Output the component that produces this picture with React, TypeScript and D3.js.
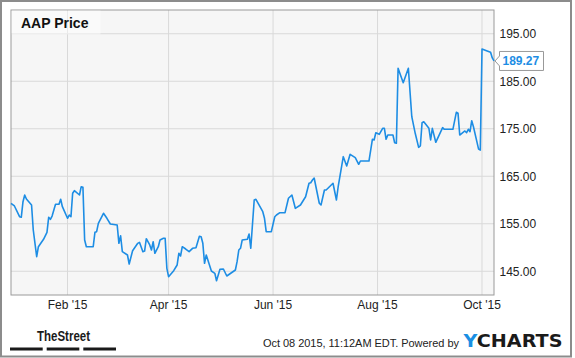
import React from "react";
import * as d3 from "d3";

const dates: string[] = [
  "2014-12-30","2015-01-01","2015-01-04","2015-01-05","2015-01-06","2015-01-07","2015-01-08","2015-01-11","2015-01-12","2015-01-14",
  "2015-01-15","2015-01-18","2015-01-20","2015-01-21","2015-01-22","2015-01-23","2015-01-25","2015-01-27","2015-01-28","2015-01-29",
  "2015-02-01","2015-02-02","2015-02-03","2015-02-04","2015-02-05","2015-02-08","2015-02-09","2015-02-10","2015-02-11","2015-02-12",
  "2015-02-16","2015-02-17","2015-02-18","2015-02-19","2015-02-22","2015-02-24","2015-02-26","2015-03-02","2015-03-03","2015-03-04",
  "2015-03-05","2015-03-08","2015-03-09","2015-03-11","2015-03-14","2015-03-15","2015-03-17","2015-03-18","2015-03-19","2015-03-21",
  "2015-03-22","2015-03-23","2015-03-24","2015-03-26","2015-03-27","2015-03-29","2015-03-30","2015-03-31","2015-04-01","2015-04-04",
  "2015-04-06","2015-04-07","2015-04-08","2015-04-09","2015-04-11","2015-04-13","2015-04-15","2015-04-17","2015-04-19","2015-04-20",
  "2015-04-21","2015-04-22","2015-04-23","2015-04-26","2015-04-28","2015-04-29","2015-05-01","2015-05-03","2015-05-05","2015-05-10",
  "2015-05-11","2015-05-12","2015-05-13","2015-05-14","2015-05-17","2015-05-18","2015-05-19","2015-05-21","2015-05-22","2015-05-26",
  "2015-05-27","2015-05-28","2015-05-31","2015-06-02","2015-06-03","2015-06-05","2015-06-08","2015-06-10","2015-06-12","2015-06-14",
  "2015-06-17","2015-06-20","2015-06-22","2015-06-23","2015-06-24","2015-06-25","2015-06-28","2015-06-29","2015-07-01","2015-07-02",
  "2015-07-06","2015-07-08","2015-07-09","2015-07-12","2015-07-14","2015-07-16","2015-07-19","2015-07-21","2015-07-22","2015-07-27",
  "2015-07-29","2015-07-30","2015-07-31","2015-08-02","2015-08-04","2015-08-05","2015-08-06","2015-08-07","2015-08-10","2015-08-11",
  "2015-08-12","2015-08-13","2015-08-16","2015-08-19","2015-08-21","2015-08-23","2015-08-25","2015-08-26","2015-08-27","2015-08-28",
  "2015-08-31","2015-09-01","2015-09-02","2015-09-04","2015-09-08","2015-09-09","2015-09-14","2015-09-16","2015-09-17","2015-09-18",
  "2015-09-21","2015-09-22","2015-09-23","2015-09-24","2015-09-25","2015-09-26","2015-09-29","2015-09-30","2015-10-01","2015-10-04",
  "2015-10-06","2015-10-07","2015-10-08",
];

const prices: number[] = [
  159.31,158.74,156.48,156.36,159.64,161.05,160.21,158.95,153.68,148.06,
  150.17,151.73,153.2,156.36,155.94,156.63,159.09,159.09,160.15,158.59,
  156.15,156.84,156.48,161.41,161.96,161.05,162.8,162.67,151.58,150.17,
  150.17,153.2,153.33,155.09,157.2,156.15,154.95,154.74,150.88,152.48,
  149.12,148.42,146.53,149.33,150.88,151.09,149.12,149.26,151.85,150.53,
  149.47,151.22,148.78,150.17,151.58,151.94,151.94,145.62,143.85,145.12,
  146.32,148.78,148.21,150.17,149.68,149.12,149.83,149.96,152.36,152.27,
  150.88,146.67,148.42,145.05,144.57,143.01,145.41,145.47,144.0,145.26,
  147.01,149.47,149.83,151.58,151.73,152.84,149.83,160.0,160.15,157.54,
  156.15,153.33,153.33,156.48,156.84,157.33,157.33,160.36,161.05,158.25,
  158.95,160.69,163.52,163.64,164.21,164.63,159.31,158.95,162.1,162.1,
  163.52,160.0,162.74,169.12,167.16,169.62,168.91,167.52,168.21,168.21,
  172.78,172.63,174.17,173.83,175.09,175.09,172.78,173.68,173.68,172.06,
  171.94,187.73,184.69,187.73,177.54,174.04,171.09,171.37,176.27,176.48,
  175.09,172.63,175.09,172.15,175.22,174.88,174.88,178.46,178.25,173.68,
  174.53,174.17,174.88,174.38,176.69,175.43,170.7,170.5,191.8,191.37,
  191.09,189.9,189.27,
];

const yTicks: number[] = [145, 155, 165, 175, 185, 195];
const xTicks: string[] = ["2015-02-01", "2015-04-01", "2015-06-01", "2015-08-01", "2015-10-01"];
const title = "AAP Price";
const footerText = "Oct 08 2015, 11:12AM EDT.  Powered by";

const parse = d3.timeParse("%Y-%m-%d");
const fmtX = d3.timeFormat("%b '%y");
const fmtY = d3.format(".2f");

export default function App() {
  const W = 575, H = 358;
  const left = 11, right = 494, top = 10, bottom = 295;
  const data = dates.map((d, i) => ({ date: parse(d) as Date, value: prices[i] }));
  const x = d3.scaleTime().domain(d3.extent(data, (d) => d.date) as [Date, Date]).range([left, right]);
  const y = d3.scaleLinear().domain([140, 200]).range([bottom, top]);
  const line = d3.line<{ date: Date; value: number }>().x((d) => x(d.date)).y((d) => y(d.value));
  const last = data[data.length - 1];
  const ly = y(last.value);
  const blue = "#1d8de4";
  const font = "'Liberation Sans', Arial, sans-serif";

  return (
    <svg width={W} height={H} style={{ position: "absolute", left: 0, top: 0, background: "#fff" }} fontFamily={font}>
      <rect x={1} y={1} width={570} height={355.5} fill="#fff" stroke="#8c8c8c" strokeWidth={2} />
      <rect x={left} y={top} width={right - left} height={bottom - top} fill="#f6f6f6" />
      {yTicks.map((t) => (
        <line key={"gy" + t} x1={left} x2={right} y1={y(t)} y2={y(t)} stroke="#d9d9d9" strokeWidth={1} />
      ))}
      {xTicks.map((t) => {
        const xx = x(parse(t) as Date);
        return <line key={"gx" + t} x1={xx} x2={xx} y1={top} y2={bottom} stroke="#d9d9d9" strokeWidth={1} />;
      })}
      <rect x={left} y={top} width={right - left} height={bottom - top} fill="none" stroke="#9a9a9a" strokeWidth={1} />
      <rect x={left + 0.5} y={top + 0.5} width={89} height={24} fill="#ffffff" fillOpacity={0.45} />
      <text x={21} y={28} fontSize={14} fontWeight="bold" fill="#111">{title}</text>
      <path d={line(data) || ""} fill="none" stroke={blue} strokeWidth={1.6} strokeLinejoin="round" />
      {yTicks.map((t) => (
        <text key={"ty" + t} x={499.5} y={y(t) + 4.5} fontSize={12} fill="#222">{fmtY(t)}</text>
      ))}
      {xTicks.map((t) => {
        const xx = x(parse(t) as Date);
        return <text key={"tx" + t} x={xx} y={309} fontSize={12} fill="#222" textAnchor="middle">{fmtX(parse(t) as Date)}</text>;
      })}
      <path
        d={`M${right + 1},${ly} L${499.5},${ly - 5} L${499.5},${ly - 9.5} L${543.5},${ly - 9.5} L${543.5},${ly + 9.5} L${499.5},${ly + 9.5} L${499.5},${ly + 5} Z`}
        fill="#fff" stroke="#999" strokeWidth={1}
      />
      <text x={502.5} y={ly + 4.5} fontSize={12} fontWeight="bold" fill={blue}>{fmtY(last.value)}</text>
      <text x={37} y={340.7} fontSize={14} fontWeight="bold" fill="#1a1a1a" textLength={53} lengthAdjust="spacingAndGlyphs"
        fontFamily="'Liberation Sans Narrow', 'Arial Narrow', 'Liberation Sans', sans-serif">TheStreet</text>
      <rect x={10} y={347.5} width={32.7} height={3} fill="#1a1a1a" />
      <rect x={46.7} y={347.5} width={32.6} height={3} fill="#1a1a1a" />
      <rect x={83.3} y={347.5} width={32.7} height={3} fill="#1a1a1a" />
      <text x={263} y={347} fontSize={11} fill="#222" textLength={196} lengthAdjust="spacing">{footerText}</text>
      <text x={463.5} y={347.2} fontSize={18} fontWeight={900} textLength={99} lengthAdjust="spacingAndGlyphs"
        fontFamily="'DejaVu Sans', 'Liberation Sans', sans-serif">
        <tspan fill="#1a8fe3">Y</tspan>
        <tspan fill="#1a1a1a">CHARTS</tspan>
      </text>
    </svg>
  );
}
